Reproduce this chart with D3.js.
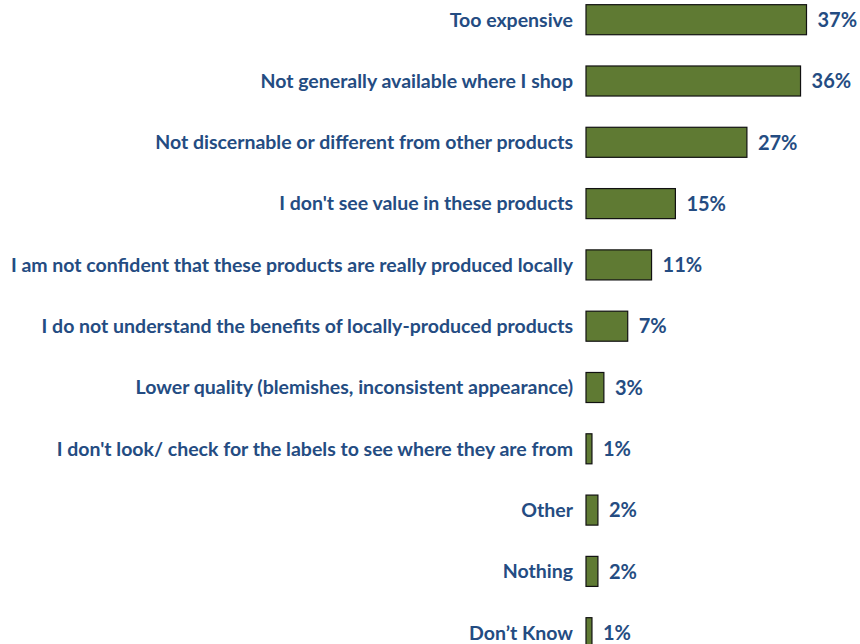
<!DOCTYPE html>
<html>
<head>
<meta charset="utf-8">
<script src="https://cdn.jsdelivr.net/npm/d3@7"></script>
<style>
  html, body { margin: 0; padding: 0; background: #fff; }
  svg { display: block; }
</style>
</head>
<body>
<svg id="chart" width="860" height="644"></svg>
<script>
// Reasons for not buying locally-produced products (% of respondents)
const categories = [
  "Too expensive",
  "Not generally available where I shop",
  "Not discernable or different from other products",
  "I don't see value in these products",
  "I am not confident that these products are really produced locally",
  "I do not understand the benefits of locally-produced products",
  "Lower quality (blemishes, inconsistent appearance)",
  "I don't look/ check for the labels to see where they are from",
  "Other",
  "Nothing",
  "Don\u2019t Know"
];
const values = [37, 36, 27, 15, 11, 7, 3, 1, 2, 2, 1];

const svg = d3.select("#chart");
const barLeft = 586;
const step = 61.3;
const top0 = 19.7 - step / 2;

const x = d3.scaleLinear().domain([0, 37]).range([barLeft, barLeft + 220.5]);
const y = d3.scaleBand()
  .domain(categories)
  .range([top0, top0 + step * categories.length])
  .paddingInner(0.51)
  .paddingOuter(0.255);

const font = "Lato, 'Open Sans', sans-serif";
const textColor = "#244C82";

const rows = svg.selectAll("g.row")
  .data(categories.map((c, i) => ({ c, v: values[i] })))
  .join("g")
  .attr("class", "row");

rows.append("rect")
  .attr("x", x(0))
  .attr("y", d => y(d.c))
  .attr("width", d => x(d.v) - x(0))
  .attr("height", y.bandwidth())
  .attr("fill", "#5F7A33")
  .attr("stroke", "#111")
  .attr("stroke-width", 1.2);

rows.append("text")
  .attr("x", x(0) - 13)
  .attr("y", d => y(d.c) + y.bandwidth() / 2)
  .attr("dy", "0.35em")
  .attr("text-anchor", "end")
  .attr("font-family", font)
  .attr("font-weight", "bold")
  .attr("font-size", 19.5)
  .attr("fill", textColor)
  .text(d => d.c);

rows.append("text")
  .attr("x", d => x(d.v) + 11)
  .attr("y", d => y(d.c) + y.bandwidth() / 2)
  .attr("dy", "0.36em")
  .attr("font-family", font)
  .attr("font-weight", "bold")
  .attr("font-size", 20)
  .attr("fill", textColor)
  .text(d => d.v + "%");
</script>
</body>
</html>
